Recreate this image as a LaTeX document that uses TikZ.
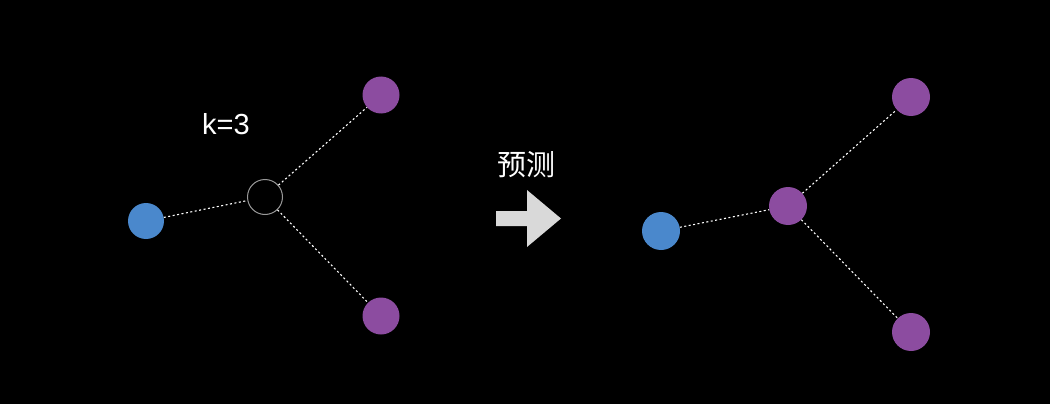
\documentclass[tikz,border=0pt]{standalone}
\usepackage{fontspec}
\setmainfont{Liberation Sans}
\newfontfamily\cjk{Noto Sans CJK SC}
\definecolor{nblue}{RGB}{74,136,204}
\definecolor{npurple}{RGB}{140,76,160}
\definecolor{arrowgray}{RGB}{217,217,217}
\tikzset{
  bluedot/.style={circle,fill=nblue,minimum size=36pt,inner sep=0pt},
  purpledot/.style={circle,fill=npurple,minimum size=37pt,inner sep=0pt},
  emptydot/.style={circle,draw=gray!80,line width=1pt,minimum size=35pt,inner sep=0pt},
  link/.style={white,line width=1.1pt,dash pattern=on 2pt off 2.5pt},
  lbl/.style={white,font=\fontsize{29}{32}\selectfont}
}
\begin{document}
\begin{tikzpicture}[x=1pt,y=-1pt]
\fill[black] (0,0) rectangle (1050,404);
\useasboundingbox (0,0) rectangle (1050,404);
% left
\node[bluedot] (lb) at (146,221) {};
\node[emptydot] (lc) at (265,197) {};
\node[purpledot] (lt) at (381,95) {};
\node[purpledot] (lbt) at (381,316) {};
\draw[link] (lb) -- (lc);
\draw[link] (lc) -- (lt);
\draw[link] (lc) -- (lbt);
\node[lbl] (k) at (226,124) {k=3};
% arrow
\node[lbl,font=\cjk\fontsize{29}{32}\selectfont] (pred) at (526,165) {预测};
\fill[arrowgray] (496,211) -- (527,211) -- (527,190) -- (561,218.5) -- (527,247) -- (527,226) -- (496,226) -- cycle;
% right
\node[bluedot,minimum size=38pt] (rb) at (661,231) {};
\node[purpledot,minimum size=38pt] (rc) at (788,206) {};
\node[purpledot,minimum size=38pt] (rt) at (911,97) {};
\node[purpledot,minimum size=38pt] (rbt) at (911,332) {};
\draw[link] (rb) -- (rc);
\draw[link] (rc) -- (rt);
\draw[link] (rc) -- (rbt);
\end{tikzpicture}
\end{document}
